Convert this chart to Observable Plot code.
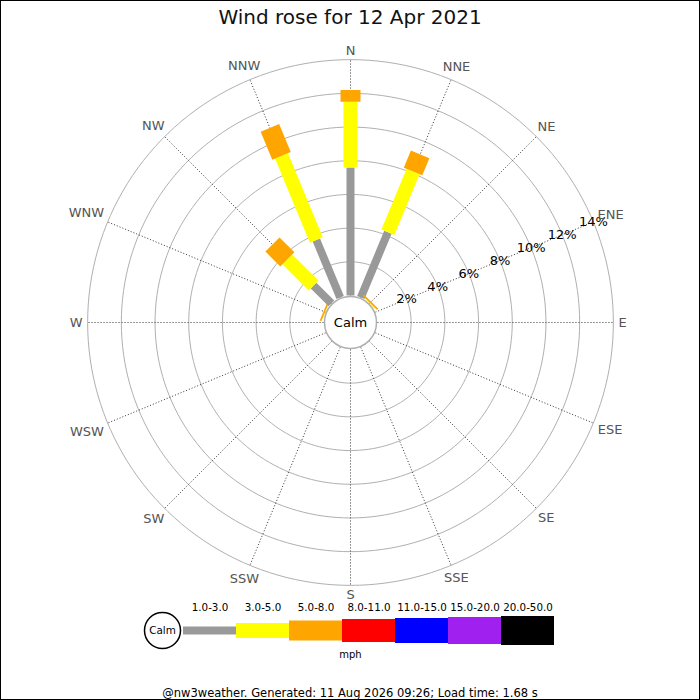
<!DOCTYPE html>
<html>
<head>
<meta charset="utf-8">
<script src="https://cdn.jsdelivr.net/npm/d3@7"></script>
<script src="https://cdn.jsdelivr.net/npm/@observablehq/plot@0.6"></script>
<style>
  body { margin: 0; font-family: "DejaVu Sans", sans-serif; background: white; }
  #wrap { position: relative; width: 700px; height: 700px; overflow: hidden; }
  #border { position: absolute; left: 0; top: 0; width: 700px; height: 700px; box-sizing: border-box; border: 1px solid #000; pointer-events: none; }
  #title { position: absolute; left: 0; top: 5px; width: 700px; text-align: center; font-size: 20px; line-height: 24px; color: #111; }
  #rose { position: absolute; left: 0; top: 30px; }
  #legend { position: absolute; left: 0; top: 598px; }
  #footer { position: absolute; left: 0; top: 685px; width: 700px; text-align: center; font-size: 11.5px; line-height: 16px; }
</style>
</head>
<body>
<div id="wrap">
  <div id="title">Wind rose for 12 Apr 2021</div>
  <div id="rose"></div>
  <div id="legend"></div>
  <div id="footer">@nw3weather. Generated: 11 Aug 2026 09:26; Load time: 1.68 s</div>
  <div id="border"></div>
</div>
<script>
// directions, clockwise from north
const directions = ["N", "NNE", "NE", "ENE", "E", "ESE", "SE", "SSE", "S", "SSW", "SW", "WSW", "W", "WNW", "NW", "NNW"];
const speedBins = ["1.0-3.0", "3.0-5.0", "5.0-8.0", "8.0-11.0", "11.0-15.0", "15.0-20.0", "20.0-50.0"];

// % of the day per direction (N ... NNW), one array per speed bin
const pct1to3   = [7.6, 4.2, 0,    0, 0, 0, 0, 0, 0, 0, 0, 0, 0, 0,    1.5,  3.7];
const pct3to5   = [3.9, 3.9, 0.04, 0, 0, 0, 0, 0, 0, 0, 0, 0, 0, 0.03, 2.2,  5.4];
const pct5to8   = [0.7, 1.1, 0.1,  0, 0, 0, 0, 0, 0, 0, 0, 0, 0, 0.1,  1.25, 1.8];
const pct8to11  = [0,   0,   0,    0, 0, 0, 0, 0, 0, 0, 0, 0, 0, 0,    0,    0];
const pct11to15 = [0,   0,   0,    0, 0, 0, 0, 0, 0, 0, 0, 0, 0, 0,    0,    0];
const pct15to20 = [0,   0,   0,    0, 0, 0, 0, 0, 0, 0, 0, 0, 0, 0,    0,    0];
const pct20to50 = [0,   0,   0,    0, 0, 0, 0, 0, 0, 0, 0, 0, 0, 0,    0,    0];
const series = [pct1to3, pct3to5, pct5to8, pct8to11, pct11to15, pct15to20, pct20to50];

const ringPcts = [2, 4, 6, 8, 10, 12, 14];

// styles
const binColors = ["#999999", "#ffff00", "#ffa500", "#ff0000", "#0000ff", "#a020f0", "#000000"];
const binWidths = [8, 14, 20, 23, 25, 27, 29];
const legendWidths = [8, 15, 20, 23, 25, 27, 29];

// layout
const k = 16.85;      // px per 1 %
const hole = 1.6;     // calm circle, in % units
const W = 700, H = 570, cy = 292;
const rad = a => a * Math.PI / 180;
const px = (r, a) => r * Math.sin(rad(a));
const py = (r, a) => r * Math.cos(rad(a));
const step = 360 / directions.length;

// stacked segments
const segments = [];
directions.forEach((d, i) => {
  let cum = 0;
  series.forEach((s, b) => {
    const v = s[i];
    if (v > 0) segments.push({dir: d, a: i * step, r1: hole + cum, r2: hole + cum + v, color: binColors[b], width: binWidths[b]});
    cum += v;
  });
});

const ringPoints = ringPcts.flatMap(p => d3.range(0, 361, 2).map(a => ({p, a})));

// push compass labels out by their own half width (approx. DejaVu advance widths)
const charW = {N: 0.748, E: 0.632, S: 0.635, W: 0.989};
const labelR = (d, i) => {
  const w = Array.from(d).reduce((s, c) => s + charW[c], 0) * 13;
  const a = rad(i * step);
  return (268 + 0.5 * w * Math.abs(Math.sin(a)) + 4 * Math.abs(Math.cos(a))) / k;
};

const rose = Plot.plot({
  width: W,
  height: H,
  margin: 0,
  x: {domain: [-350 / k, 350 / k], axis: null},
  y: {domain: [-(H - cy) / k, cy / k], axis: null},
  color: {type: "identity"},
  style: {fontFamily: "DejaVu Sans", fontSize: "13px", background: "transparent", overflow: "visible"},
  marks: [
    Plot.line(ringPoints, {x: d => px(hole + d.p, d.a), y: d => py(hole + d.p, d.a), z: "p", stroke: "#b0b0b0", strokeWidth: 1}),
    Plot.link(directions, {
      x1: (d, i) => px(hole, i * step), y1: (d, i) => py(hole, i * step),
      x2: (d, i) => px(hole + 14, i * step), y2: (d, i) => py(hole + 14, i * step),
      stroke: "#333", strokeWidth: 1, strokeDasharray: "1,2"
    }),
    Plot.link(segments, {
      x1: d => px(d.r1, d.a), y1: d => py(d.r1, d.a),
      x2: d => px(d.r2, d.a), y2: d => py(d.r2, d.a),
      stroke: d => d.color, strokeWidth: d => d.width, strokeLinecap: "butt"
    }),
    Plot.dot(["Calm"], {x: () => 0, y: () => 0, r: 26, fill: "white", stroke: "#b0b0b0"}),
    Plot.text(["Calm"], {x: () => 0, y: () => 0, text: d => d, fill: "black", fontSize: 13}),
    Plot.text(ringPcts, {x: p => px(hole + p, 67.5), y: p => py(hole + p, 67.5), text: p => p + "%", fill: "black", fontSize: 13}),
    Plot.text(directions, {x: (d, i) => px(labelR(d, i), i * step), y: (d, i) => py(labelR(d, i), i * step), text: d => d, fill: "#555", fontSize: 13})
  ]
});
d3.select("#rose").append(() => rose);

const legendItems = speedBins.map((bin, b) => ({bin, color: binColors[b], width: legendWidths[b]}));

const legend = Plot.plot({
  width: W,
  height: 72,
  marginTop: 0, marginBottom: 8, marginLeft: 0, marginRight: 0,
  x: {type: "band", domain: speedBins, range: [180.5, 556], padding: 0, axis: null},
  y: {domain: [-1, 1], axis: null},
  color: {type: "identity"},
  style: {fontFamily: "DejaVu Sans", fontSize: "10px", background: "transparent", overflow: "visible"},
  marks: [
    Plot.tickY(legendItems, {x: "bin", y: () => 0, stroke: d => d.color, strokeWidth: d => d.width}),
    Plot.text(legendItems, {x: "bin", y: () => 0, dy: -23, text: "bin", fill: "black", fontSize: 10.3}),
    Plot.text(["mph"], {y: () => 0, dy: 24, text: d => d, fill: "black", fontSize: 10}),
    Plot.dot(["Calm"], {y: () => 0, frameAnchor: "left", dx: 162, r: 18, fill: "white", stroke: "black"}),
    Plot.text(["Calm"], {y: () => 0, frameAnchor: "left", dx: 162, textAnchor: "middle", text: d => d, fill: "black", fontSize: 10.4})
  ]
});
d3.select("#legend").append(() => legend);
</script>
</body>
</html>
